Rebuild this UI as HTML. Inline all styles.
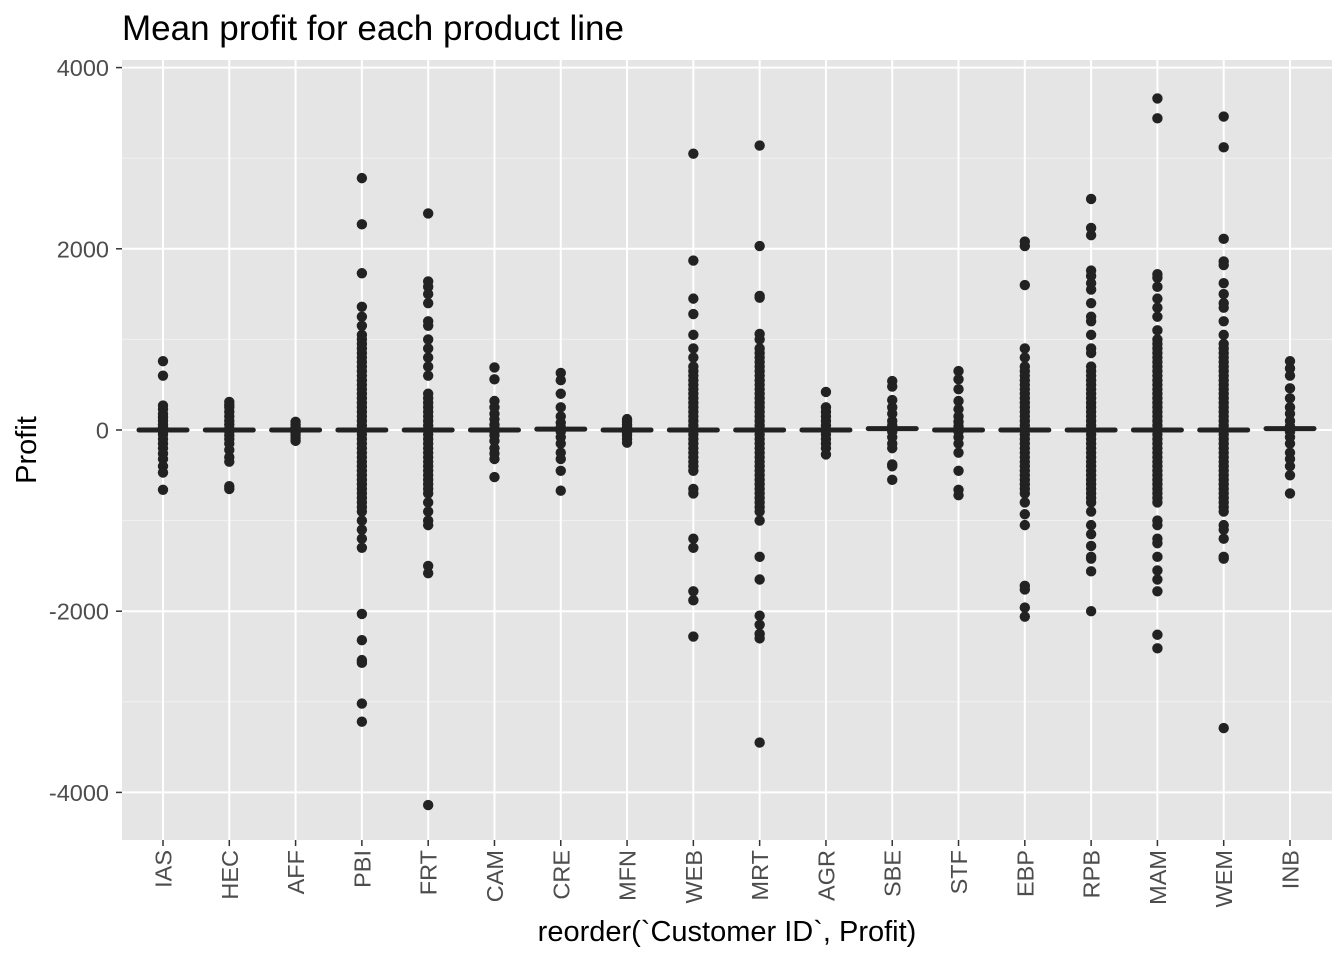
<!DOCTYPE html>
<html><head><meta charset="utf-8"><style>
body{margin:0;background:#fff;}
svg text{font-family:"Liberation Sans",Arial,sans-serif;}
</style></head><body>
<svg id="chart" width="1344" height="960">
<text x="122" y="40" font-size="35" fill="#000">Mean profit for each product line</text>
<rect x="122" y="60" width="1210" height="780" fill="#e5e5e5"/>
<g id="grid"></g><g id="marks"></g><g id="axes"></g>
<text transform="translate(36,450) rotate(-90)" text-anchor="middle" font-size="29" fill="#000">Profit</text>
<text x="727" y="941" text-anchor="middle" font-size="29" fill="#000">reorder(`Customer ID`, Profit)</text>
</svg>
<script>
const categories=["IAS","HEC","AFF","PBI","FRT","CAM","CRE","MFN","WEB","MRT","AGR","SBE","STF","EBP","RPB","MAM","WEM","INB"];
const means=[0,0,0,0,0,0,10,0,0,0,0,15,0,0,0,0,0,15];
const yTicks=[-4000,-2000,0,2000,4000];
const yMinor=[-3000,-1000,1000,3000];
const pIAS=[760,600,270,230,180,140,100,60,30,10,-20,-50,-100,-150,-200,-260,-320,-400,-470,-660];
const pHEC=[310,280,250,200,150,100,60,20,-20,-60,-100,-150,-220,-300,-350,-620,-650];
const pAFF=[90,60,30,10,-10,-30,-60,-90,-120];
const pPBI=[2780,2270,1730,1360,1250,1150,1050,1000,950,900,850,800,750,700,650,600,550,500,450,400,350,300,250,200,150,100,50,0,-50,-100,-150,-200,-250,-300,-350,-400,-450,-500,-550,-600,-650,-700,-750,-800,-850,-900,-1000,-1100,-1200,-1300,-2030,-2320,-2540,-2570,-3020,-3220];
const pFRT=[2390,1640,1580,1500,1400,1200,1150,1000,900,800,700,600,400,350,300,250,200,150,100,50,0,-50,-100,-150,-200,-250,-300,-350,-400,-450,-500,-550,-600,-650,-700,-800,-900,-1000,-1050,-1500,-1580,-4140];
const pCAM=[690,560,320,250,180,120,60,20,-20,-60,-120,-200,-260,-320,-520];
const pCRE=[630,550,400,250,150,80,30,-20,-80,-150,-250,-320,-450,-670];
const pMFN=[120,90,60,30,0,-30,-60,-100,-140];
const pWEB=[3050,1870,1450,1280,1050,900,800,700,650,600,550,500,450,400,350,300,250,200,150,100,50,0,-50,-100,-150,-200,-250,-300,-350,-400,-450,-650,-700,-1200,-1300,-1780,-1880,-2280];
const pMRT=[3140,2030,1480,1460,1060,1000,900,850,800,750,700,650,600,550,500,450,400,350,300,250,200,150,100,50,0,-50,-100,-150,-200,-250,-300,-350,-400,-450,-500,-550,-600,-650,-700,-750,-800,-850,-900,-1000,-1400,-1650,-2050,-2150,-2250,-2300,-3450];
const pAGR=[420,250,200,150,100,50,0,-50,-100,-150,-200,-270];
const pSBE=[540,480,330,250,180,100,50,-20,-80,-150,-200,-380,-400,-550];
const pSTF=[650,560,450,320,230,150,90,40,-20,-80,-150,-250,-450,-660,-720];
const pEBP=[2080,2030,1600,900,800,700,650,600,550,500,450,400,350,300,250,200,150,100,50,0,-50,-100,-150,-200,-250,-300,-350,-400,-450,-500,-550,-600,-650,-700,-800,-930,-1050,-1720,-1760,-1960,-2060];
const pRPB=[2550,2230,2150,1760,1700,1620,1550,1400,1250,1200,1050,900,850,700,650,600,550,500,450,400,350,300,250,200,150,100,50,0,-50,-100,-150,-200,-250,-300,-350,-400,-450,-500,-550,-600,-650,-700,-750,-800,-900,-1050,-1150,-1280,-1400,-1420,-1560,-2000];
const pMAM=[3660,3440,1720,1680,1580,1450,1350,1250,1100,1000,950,900,850,800,750,700,650,600,550,500,450,400,350,300,250,200,150,100,50,0,-50,-100,-150,-200,-250,-300,-350,-400,-450,-500,-550,-600,-650,-700,-750,-800,-1000,-1050,-1200,-1250,-1400,-1550,-1650,-1780,-2260,-2410];
const pWEM=[3460,3120,2110,1860,1820,1620,1500,1400,1350,1200,1050,950,900,850,800,750,700,650,600,550,500,450,400,350,300,250,200,150,100,50,0,-50,-100,-150,-200,-250,-300,-350,-400,-450,-500,-550,-600,-650,-700,-750,-800,-850,-900,-1050,-1100,-1200,-1400,-1420,-3290];
const pINB=[760,680,600,460,350,250,180,100,40,-20,-80,-150,-250,-320,-400,-500,-700];
const points=[pIAS,pHEC,pAFF,pPBI,pFRT,pCAM,pCRE,pMFN,pWEB,pMRT,pAGR,pSBE,pSTF,pEBP,pRPB,pMAM,pWEM,pINB];

const NS="http://www.w3.org/2000/svg";
const X0=163,X1=1290,Y0=430,PX=0.0906;
function x(i){return X0+i*(X1-X0)/(categories.length-1);}
function y(v){return Y0-v*PX;}
function mk(tag,attrs,parent){const e=document.createElementNS(NS,tag);for(const k in attrs)e.setAttribute(k,attrs[k]);parent.appendChild(e);return e;}
const grid=document.getElementById('grid'),marks=document.getElementById('marks'),axes=document.getElementById('axes');
yMinor.forEach(v=>{const l=mk('line',{x1:122,x2:1332,y1:y(v),y2:y(v),stroke:'#f2f2f2','stroke-width':1},grid);

});
yTicks.forEach(v=>{const l=mk('line',{x1:122,x2:1332,y1:y(v),y2:y(v),stroke:'#fff','stroke-width':2},grid);


const t=mk('line',{x1:116,x2:122,y1:y(v),y2:y(v),stroke:'#333','stroke-width':1.5},axes);


const tx=mk('text',{x:109,y:y(v)+8.5,'text-anchor':'end','font-size':23.5,fill:'#4d4d4d'},axes);tx.textContent=v;

});
categories.forEach((c,i)=>{const l=mk('line',{x1:x(i),x2:x(i),y1:60,y2:840,stroke:'#fff','stroke-width':2},grid);


const t=mk('line',{x1:x(i),x2:x(i),y1:840,y2:846,stroke:'#333','stroke-width':1.5},axes);


const tx=mk('text',{transform:`translate(${x(i)+8.5},850) rotate(-90)`,'text-anchor':'end','font-size':23.5,fill:'#4d4d4d'},axes);tx.textContent=c;


points[i].forEach(v=>{const p=mk('circle',{cx:x(i),cy:y(v),r:5.2,fill:'#222'},marks);

});
const m=mk('line',{x1:x(i)-24,x2:x(i)+24,y1:y(means[i]),y2:y(means[i]),stroke:'#222','stroke-width':5,'stroke-linecap':'round'},marks);

});
</script>
</body></html>
